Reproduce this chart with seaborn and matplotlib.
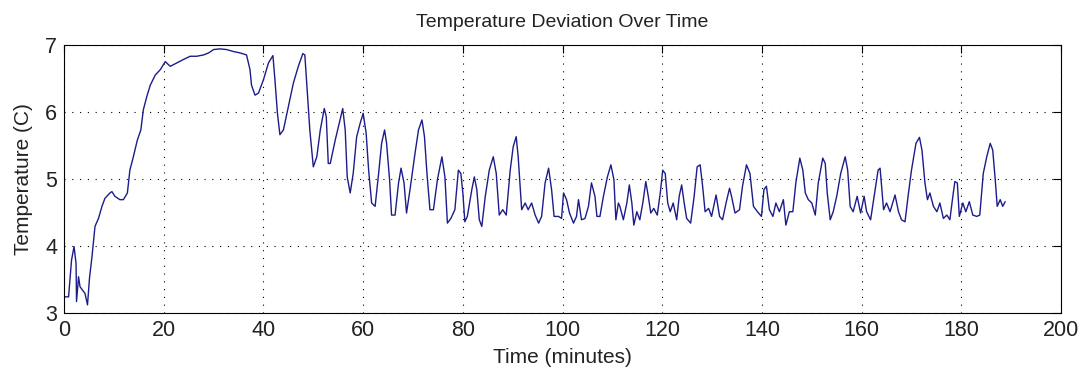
import matplotlib
matplotlib.use('Agg')
import matplotlib.pyplot as plt
import seaborn as sns
import pandas as pd

# Readings (minutes, deg C)
time_min = [
    0.2, 0.9, 1.5, 2.0, 2.4, 2.5, 2.9, 3.2, 3.7, 4.2, 4.7, 5.1, 5.6, 6.2, 6.9, 7.6, 8.2,
    9.2, 9.6, 10.2, 11.2, 11.9, 12.7, 13.2, 13.9, 14.7, 15.4, 15.9, 16.6, 17.3, 18.3,
    19.3, 20.3, 21.3, 22.6, 23.9, 25.3, 26.6, 28.0, 29.0, 30.0, 31.3, 32.6, 34.0, 35.3,
    36.6, 37.3, 37.6, 38.3, 39.0, 40.0, 41.0, 41.9, 42.3, 42.8, 43.3, 44.0, 45.0, 46.0,
    47.0, 47.9, 48.3, 48.8, 49.3, 50.0, 50.7, 51.4, 52.2, 52.6, 53.0,
    53.4, 54.4, 55.9, 56.4, 56.8, 57.4, 58.0, 58.7, 59.4, 60.0, 60.6, 61.1, 61.7, 62.4,
    63.1, 63.7, 64.3, 64.7, 65.3, 65.7, 66.4, 67.1, 67.6, 68.2, 68.7, 69.4, 70.4, 71.1,
    71.8, 72.3, 72.8, 73.4, 74.1, 74.9, 75.8, 76.4, 76.9, 77.6, 78.4, 79.1, 79.6, 80.0,
    80.4, 80.9, 81.8, 82.3, 82.8, 83.3, 83.8, 84.5, 85.3, 86.1, 86.7, 87.3, 88.0, 88.7,
    89.5, 90.1, 90.7, 91.1, 91.8, 92.5, 93.1, 93.8, 94.5, 95.2, 95.8, 96.5, 97.2, 97.8,
    98.3, 99.2, 99.8, 100.2, 100.8, 101.4, 102.2, 102.8, 103.2, 103.8, 104.5, 105.2,
    105.8, 106.5, 106.9, 107.5, 108.2, 109.0, 109.7, 110.3, 110.7, 111.2,
    111.5, 112.2, 112.9, 113.4, 113.9, 114.3, 114.9, 115.5, 116.1, 116.7, 117.2, 117.7,
    118.3, 119.0, 119.6, 120.1, 120.6, 121.1, 121.6, 122.2, 122.9, 123.4, 123.9, 124.4,
    124.9, 125.7, 126.4, 127.0, 127.6, 128.1, 128.6, 129.3, 129.9, 130.8, 131.5, 132.1,
    132.8, 133.5, 133.9, 134.6, 135.5, 136.1, 136.9, 137.6, 138.3, 139.1, 139.9, 140.4,
    140.9, 141.5, 142.2, 142.8, 143.5, 144.3, 144.8, 145.5, 146.2, 146.8, 147.6, 148.2,
    148.7, 149.3, 150.0, 150.7, 151.3, 152.2, 152.7, 153.1, 153.7, 154.3, 155.0, 155.8,
    156.7, 157.2, 157.7, 158.3, 159.1, 159.8, 160.5, 161.0, 161.8, 162.7, 163.3,
    163.7, 164.4, 165.0, 165.7, 166.7, 167.4, 168.0, 168.7, 169.4, 170.0, 170.9, 171.6,
    172.1, 172.7, 173.2, 173.7, 174.4, 175.1, 175.7, 176.4, 177.1, 177.7, 178.3, 178.7,
    179.2, 179.6, 180.3, 180.9, 181.6, 182.3, 183.1, 183.7, 184.4, 185.1, 185.8, 186.3,
    186.8, 187.2, 187.8, 188.3, 188.8,
]
temp_c = [
    3.24, 3.24, 3.79, 3.99, 3.74, 3.17, 3.54, 3.39, 3.34, 3.29, 3.12, 3.52, 3.84, 4.29, 4.41, 4.59, 4.71,
    4.79, 4.81, 4.74, 4.69, 4.69, 4.79, 5.13, 5.33, 5.58, 5.73, 6.03, 6.23, 6.40, 6.55,
    6.63, 6.75, 6.68, 6.73, 6.78, 6.83, 6.83, 6.85, 6.88, 6.93, 6.94, 6.93, 6.90, 6.88,
    6.85, 6.63, 6.40, 6.25, 6.28, 6.48, 6.73, 6.84, 6.48, 5.98, 5.66, 5.73, 6.08, 6.43,
    6.68, 6.87, 6.85, 6.28, 5.73, 5.18, 5.33, 5.73, 6.05, 5.93, 5.23,
    5.23, 5.58, 6.05, 5.73, 5.03, 4.79, 5.08, 5.63, 5.83, 5.98, 5.68, 5.13, 4.64, 4.59,
    5.08, 5.53, 5.73, 5.53, 4.99, 4.46, 4.46, 4.94, 5.16, 4.94, 4.49, 4.84, 5.38, 5.73,
    5.88, 5.63, 5.08, 4.54, 4.54, 4.99, 5.33, 5.03, 4.34, 4.41, 4.54, 5.13, 5.08, 4.79,
    4.36, 4.44, 4.84, 5.03, 4.84, 4.39, 4.29, 4.74, 5.13, 5.33, 5.08, 4.46, 4.54, 4.46,
    5.13, 5.48, 5.63, 5.33, 4.54, 4.64, 4.54, 4.64, 4.46, 4.34, 4.44, 4.94, 5.16, 4.84,
    4.44, 4.44, 4.41, 4.79, 4.69, 4.49, 4.34, 4.44, 4.69, 4.39, 4.41, 4.59,
    4.94, 4.74, 4.44, 4.44, 4.74, 5.03, 5.21, 4.99, 4.39, 4.64,
    4.59, 4.39, 4.64, 4.91, 4.64, 4.31, 4.51, 4.39, 4.64, 4.96, 4.74, 4.49,
    4.56, 4.46, 4.79, 5.13, 5.08, 4.64, 4.51, 4.64, 4.39, 4.74, 4.91, 4.64,
    4.41, 4.34, 4.74, 5.18, 5.21, 4.89, 4.51, 4.56, 4.44, 4.76, 4.44, 4.39,
    4.64, 4.86, 4.74, 4.49, 4.54, 4.89, 5.21, 5.08, 4.59, 4.51, 4.44, 4.84,
    4.89, 4.54, 4.44, 4.64, 4.51, 4.69, 4.31, 4.51, 4.51, 4.94, 5.31, 5.13,
    4.79, 4.69, 4.64, 4.46, 4.94, 5.31, 5.23, 4.79, 4.39, 4.51, 4.74, 5.08,
    5.33, 5.13, 4.59, 4.51, 4.74, 4.49, 4.74, 4.51, 4.39, 4.84, 5.13,
    5.16, 4.54, 4.64, 4.51, 4.76, 4.51, 4.39, 4.36, 4.79, 5.13, 5.53, 5.62,
    5.43, 4.94, 4.69, 4.79, 4.59, 4.51, 4.64, 4.41, 4.46, 4.39, 4.74, 4.96,
    4.94, 4.44, 4.64, 4.51, 4.66, 4.46, 4.44, 4.46, 5.08, 5.33, 5.53, 5.43,
    4.99, 4.59, 4.69, 4.59, 4.66,
]

df = pd.DataFrame({'Time': time_min, 'Temp': temp_c})

sns.set_style('white')
plt.rcParams['font.family'] = ['Liberation Sans', 'DejaVu Sans']

fig = plt.figure(figsize=(10.86, 3.77), dpi=100)
ax = fig.add_axes([0.059, 0.170, 0.918, 0.711])

sns.lineplot(data=df, x='Time', y='Temp', ax=ax, color='#1c1c8a',
             linewidth=1.0, estimator=None, sort=False)

ax.set_xlim(0, 200)
ax.set_ylim(3, 7)
ax.set_xticks(range(0, 201, 20))
ax.set_yticks([3, 4, 5, 6, 7])
ax.grid(True, color='black', linestyle=(0, (1, 6)), linewidth=0.8)
ax.tick_params(direction='in', top=True, right=True, length=6, labelsize=15.5,
               color='black', labelcolor='#222222', width=0.8, pad=5)
for s in ax.spines.values():
    s.set_color('black')
    s.set_linewidth(0.8)

ax.set_title('Temperature Deviation Over Time', fontsize=14, pad=13, color='#222222')
ax.set_xlabel('Time (minutes)', fontsize=15, labelpad=5, color='#222222')
ax.set_ylabel('Temperature (C)', fontsize=15, labelpad=9, color='#222222')

fig.savefig('out.png', dpi=100)
